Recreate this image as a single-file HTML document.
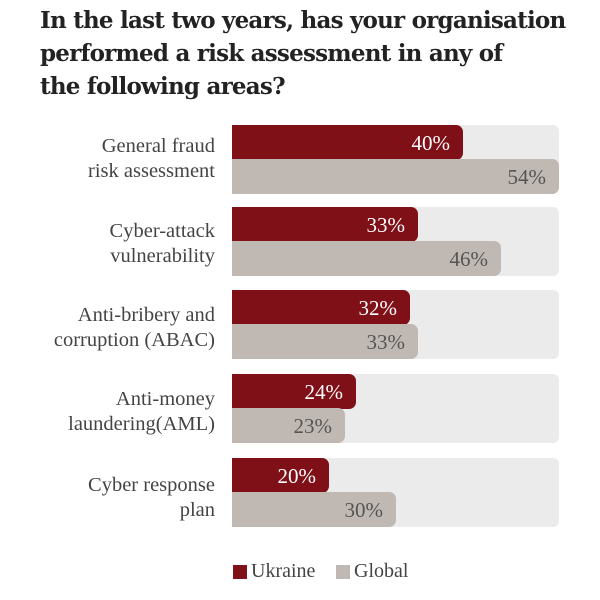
<!DOCTYPE html>
<html><head><style>
body{margin:0;width:600px;height:600px;background:#fff;font-family:"Liberation Serif","DejaVu Serif",serif;position:relative;overflow:hidden}
.t{position:absolute;left:40px;top:4px;font-size:23px;font-weight:bold;line-height:33px;color:#222;font-family:"DejaVu Serif",serif;letter-spacing:-0.78px;white-space:nowrap}
.track{position:absolute;left:232px;width:327px;height:69px;background:#ebebeb;border-radius:0 6px 6px 0}
.bar{position:absolute;left:232px;height:35px;border-radius:0 7px 7px 0;box-sizing:border-box;text-align:right;padding-right:13px;font-size:21px;line-height:37px}
.r{background:#7f1018;color:#fff}
.g{background:#c0b8b2;color:#555}
.lab{position:absolute;right:385px;text-align:right;font-size:20.5px;line-height:25px;color:#444;white-space:nowrap}
.leg{position:absolute;top:560px;font-size:20px;color:#444}
.sq{position:absolute;top:565px;width:14px;height:14px}
</style></head><body>
<div class="t">In the last two years, has your organisation<br>performed a risk assessment in any of<br>the following areas?</div>

<div class="track" style="top:125px"></div>
<div class="bar r" style="top:125px;width:231px">40%</div>
<div class="bar g" style="top:159px;width:327px">54%</div>
<div class="lab" style="top:134px">General fraud<br>risk assessment</div>

<div class="track" style="top:207px"></div>
<div class="bar r" style="top:207px;width:186px">33%</div>
<div class="bar g" style="top:241px;width:269px">46%</div>
<div class="lab" style="top:219px">Cyber-attack<br>vulnerability</div>

<div class="track" style="top:290px"></div>
<div class="bar r" style="top:290px;width:178px">32%</div>
<div class="bar g" style="top:324px;width:186px">33%</div>
<div class="lab" style="top:303px">Anti-bribery and<br>corruption (ABAC)</div>

<div class="track" style="top:374px"></div>
<div class="bar r" style="top:374px;width:124px">24%</div>
<div class="bar g" style="top:408px;width:113px">23%</div>
<div class="lab" style="top:387px">Anti-money<br>laundering(AML)</div>

<div class="track" style="top:458px"></div>
<div class="bar r" style="top:458px;width:97px">20%</div>
<div class="bar g" style="top:492px;width:164px">30%</div>
<div class="lab" style="top:473px">Cyber response<br>plan</div>

<div class="sq" style="left:233px;background:#7f1018"></div>
<div class="leg" style="left:251px">Ukraine</div>
<div class="sq" style="left:336px;background:#c0b8b2"></div>
<div class="leg" style="left:354px">Global</div>
</body></html>
